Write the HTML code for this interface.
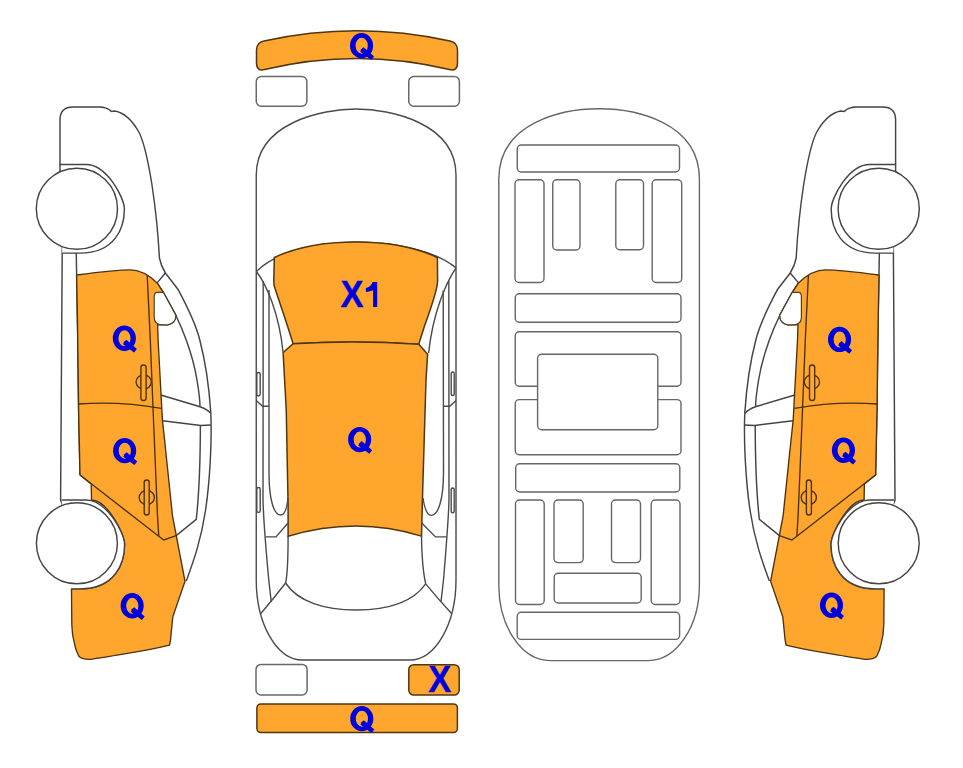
<!DOCTYPE html>
<html><head><meta charset="utf-8"><style>
html,body{margin:0;padding:0;background:#fff;}
svg{display:block;}
text{font-family:"Liberation Sans",sans-serif;font-weight:bold;fill:#0000dc;stroke:#0000dc;stroke-width:0.3;}
</style></head><body>
<svg width="963" height="768" viewBox="0 0 963 768">
<defs><g id="Q"><path d="M0,12.65 A11.55,12.65 0 1 0 23.1,12.65 A11.55,12.65 0 1 0 0,12.65 Z M5.6,12.7 A6.1,8 0 1 1 17.8,12.7 A6.1,8 0 1 1 5.6,12.7 Z" fill-rule="evenodd"/><path d="M11.25,16.25 L13.6,14.2 L24.1,23.4 L21.25,26.9 L10.3,18.75 Z"/></g>
<g id="side">
  <!-- body outline -->
  <path d="M60,164.4 V120 Q60,107 73,107 L100,107 Q106,107.5 109,109.5 L111.25,111.4 L115,111 C125,113 133,122 138.3,131 C144,141 148,160 152,185 C155,205 158,230 159.4,258 Q161,266 165.4,273 L177.9,289.2 C188,308 196,325 199.8,340 C205,360 209,385 210.8,413 C212,440 210,480 205.6,510 C201,540 194,560 186.25,581" fill="#fff" stroke="#444" stroke-width="1.45"/>
  <!-- left rocker lines -->
  <path d="M62.25,246 L60.6,500 L62.5,505" fill="none" stroke="#444" stroke-width="1.45"/>
  <path d="M76.25,253.1 L77.6,330 L78.6,410 L80,475" fill="none" stroke="#444" stroke-width="1.45"/>
  <!-- front arch + wheel -->
  <path d="M60,172 V164.4 H86 C107,164.4 124.4,198 124.4,208.9 C124.4,227.9 115,253.1 80,253.1 H62.25" fill="#fff" stroke="#444" stroke-width="1.45"/>
  <circle cx="76.9" cy="208.75" r="40.6" fill="#fff" stroke="#444" stroke-width="1.45"/>
  <!-- A pillar / window lines -->
  <path d="M157.1,282.9 L165.4,273" fill="none" stroke="#444" stroke-width="1.45"/>
  <path d="M157.1,282.9 L163.3,292.3 L175.8,315.2 C180,324 183,331 186.25,340 C191,353 195,368 197,380 C199,392 200,400 200,406.7" fill="none" stroke="#444" stroke-width="1.45"/>
  <path d="M200.4,425 C200.3,460 199,495 196.25,519.4 L176.25,535.6 Q170,539 163.75,540" fill="none" stroke="#444" stroke-width="1.45"/>
  <!-- seat quad -->
  <path d="M160.8,395 L200,406.7 Q207,409 210.8,413.3" fill="none" stroke="#444" stroke-width="1.45"/>
  <path d="M162.5,420.8 L200.8,425.4 L210.8,425" fill="none" stroke="#444" stroke-width="1.45"/>
  <!-- orange panels -->
  <path d="M76.6,275 C100,272 120,269.9 130,269.9 C140,269.9 150,276 157.1,282.9 L163.3,292.3 L175.8,315.2 Q176,323 168,324.8 L157.6,324.6 L158.1,340 C159.5,370 161,395 162.5,420.8 L165,444 L172.5,516 L185,581.25 L172.8,616.8 L170.5,640 L169.5,645.2 Q150,650 124.4,653.9 Q100,658 91,659.3 Q82,659.5 79,656.5 Q75.5,650 74.6,644.1 Q72,635 71.8,624.5 L71.5,588.85 L80,588.85 C115,588.85 124.6,563.4 124.6,544.4 C124.6,533.4 107,500 91.5,500 L91.25,484 L80,475 L78.6,410 L77.6,330 Z" fill="#ffa62e" stroke="#4a3210" stroke-width="1.35"/>
  <!-- door lines -->
  <path d="M147.2,275.1 L150.3,340 L153.75,426 L157.5,516 L158.75,536.25" fill="none" stroke="#4a3210" stroke-width="1.35"/>
  <path d="M78.1,404 Q120,401 161.25,408.3" fill="none" stroke="#4a3210" stroke-width="1.35"/>
  <path d="M80,475 L158.75,536.25 L163.75,540 L176.25,535.6" fill="none" stroke="#4a3210" stroke-width="1.35"/>
  <!-- handles -->
  <ellipse cx="143.7" cy="382" rx="7.6" ry="7.2" fill="none" stroke="#4a3210" stroke-width="1.35"/>
  <rect x="140.9" y="365" width="5.2" height="35.5" rx="2.6" fill="#ffa62e" stroke="#4a3210" stroke-width="1.35"/>
  <ellipse cx="146.8" cy="497.5" rx="7.6" ry="7.2" fill="none" stroke="#4a3210" stroke-width="1.35"/>
  <rect x="144.2" y="480" width="5" height="35" rx="2.5" fill="#ffa62e" stroke="#4a3210" stroke-width="1.35"/>
  <!-- mirror -->
  <path d="M157,292.3 L163.3,292.3 L175.8,315.2 Q176,323 168,324.8 L162,324.8 Q154.2,324.8 154.2,317 L154.2,297 Q154.2,292.3 157,292.3 Z" fill="#fff" stroke="#4a4030" stroke-width="1.2"/>
  <!-- rear arch + wheel -->
  <path d="M61.5,500 H86 C107,500 124.6,533.4 124.6,544.4 C124.6,563.4 115,588.85 80,588.85 H71.5" fill="#fff" stroke="#444" stroke-width="1.45"/>
  <circle cx="76.9" cy="543.3" r="40.5" fill="#fff" stroke="#444" stroke-width="1.45"/>
</g>
</defs>

<!-- ============ LEFT SIDE CAR ============ -->
<use href="#side"/>
<!-- ============ RIGHT SIDE CAR (mirror) ============ -->
<use href="#side" transform="matrix(-1,0,0,1,955.6,0)"/>

<!-- ============ TOP VIEW CAR ============ -->
<g fill="none" stroke="#4a4a4a" stroke-width="1.4">
  <path d="M256.25,175 C256.25,123 322.1,109 356.1,109 C390.1,109 456,123 456,175 L456,580 A46.3,80 0 0 1 409.7,660 L302.5,660 A46.25,80 0 0 1 256.25,580 Z" fill="#fff"/>
  <path d="M256.4,271.5 A110,47.3 0 0 1 456,267.9"/>
</g>
<path d="M274.3,257.5 A110,47.3 0 0 1 437.4,257.5 L437.6,281 C437.2,292 430,310 424.5,326 L418.75,344.3 Q356,340 293.1,343.75 L287.5,326 L275.2,289 Q273.8,285.5 273.8,282 Z" fill="#ffa62e" stroke="#4f3612" stroke-width="1.5"/>
<path d="M293.1,343.75 Q356,340 418.75,344.3 L427.6,354.2 L426,380 L422.7,490 L421.5,536.1 Q356,515.8 288.1,536.25 L288.1,506 L286.25,410 L283.1,352.5 Z" fill="#ffa62e" stroke="#4f3612" stroke-width="1.5"/>
<g fill="none" stroke="#4a4a4a" stroke-width="1.4">
  <!-- A pillars -->
  <path d="M256.4,271.5 C266,284 279,312 283.1,352.5"/>
  <path d="M456,267.9 C446,283 433,312 428.6,353.1"/>
  <!-- mid lines -->
  <path d="M263.2,281 L263,500 C263.5,520 266,550 268.75,580 L271.25,601.9"/>
  <path d="M448.8,280.6 L449,500 C448.5,520 446,550 443.5,580 L441,601.7"/>
  <!-- inner lines / oval -->
  <path d="M269,290 L269,470 C268.75,500 274,515 280.6,515 C285,515 287,508 288,498"/>
  <path d="M443.2,290.5 L443.5,470 C443.75,500 438,515.4 431.25,515.4 C427,515.4 424.5,508 423,498"/>
  <!-- lower sills -->
  <path d="M265.6,536.9 H276 L288,523"/>
  <path d="M446.7,536.9 H435.5 L421.5,522.8"/>
  <path d="M256.25,400.6 L262.5,406.25 H268.75"/>
  <path d="M456,400.6 L449.75,406.25 H443.5"/>
  <!-- rear pillars -->
  <path d="M288.1,536.25 C288.1,560 288,572 285.6,583"/>
  <path d="M421.5,536.1 C421.8,560 423,572 425.7,583.9"/>
  <!-- rear window -->
  <path d="M285.6,583 C298,602 325,610 356,610 C387,610 413,602 425.7,583.9"/>
  <path d="M285.6,583 Q274,598 260.6,613.75"/>
  <path d="M425.7,583.9 Q438,599 451.6,613.5"/>
  <!-- handles -->
  <rect x="256.8" y="372.5" width="3.4" height="23.5" rx="1.7"/>
  <rect x="256.8" y="487.5" width="3.4" height="25" rx="1.7"/>
  <rect x="451.2" y="372" width="3" height="23.5" rx="1.5"/>
  <rect x="451.2" y="488" width="3" height="24.7" rx="1.5"/>
  <!-- mirrors / lamps -->
  <rect x="256.25" y="76.5" width="50.6" height="29.75" rx="5" fill="#fff" stroke="#686868" stroke-width="1.5"/>
  <rect x="408.75" y="76.5" width="50.65" height="29.75" rx="5" fill="#fff" stroke="#686868" stroke-width="1.5"/>
  <rect x="256" y="664.4" width="51.1" height="30.5" rx="5" fill="#fff" stroke="#686868" stroke-width="1.5"/>
</g>
<!-- bumpers / plates -->
<path d="M256.5,50 Q256.5,42.5 264,41 Q357,20.5 450,41 Q457.5,42.5 457.5,50 L457.5,63 Q457.5,71.5 449.5,69.6 Q357,47.5 264.5,69.6 Q256.5,71.5 256.5,63 Z" fill="#ffa62e" stroke="#4f3612" stroke-width="1.5"/>
<rect x="408.8" y="664.65" width="50.4" height="30.45" rx="5" fill="#ffa62e" stroke="#4f3612" stroke-width="1.5"/>
<rect x="256.9" y="703.9" width="200.5" height="28.7" rx="4" fill="#ffa62e" stroke="#4f3612" stroke-width="1.5"/>

<!-- ============ UNDERBODY ============ -->
<g fill="#fff" stroke="#666" stroke-width="1.4">
  <path d="M498.8,179 C498.8,121 565.1,108.75 599.1,108.75 C633.1,108.75 699.4,121 699.4,179 L699.4,585 A51.2,75.6 0 0 1 648.2,660.6 L550,660.6 A51.2,75.6 0 0 1 498.8,585 Z"/>
  <rect x="517.25" y="145" width="162.25" height="27" rx="4"/>
  <rect x="515" y="179.75" width="29" height="102.75" rx="4"/>
  <rect x="552.75" y="179.75" width="27.25" height="70.25" rx="4"/>
  <rect x="615.8" y="179.75" width="27.7" height="70" rx="4"/>
  <rect x="652.2" y="179.75" width="29.5" height="102.75" rx="4"/>
  <rect x="515.25" y="293.75" width="165.75" height="28.45" rx="4"/>
  <rect x="515.25" y="331.8" width="165.75" height="54.5" rx="4"/>
  <rect x="515.25" y="399.6" width="165.75" height="55.1" rx="4"/>
  <rect x="537.6" y="354.2" width="120.2" height="75.5" rx="4"/>
  <rect x="515.7" y="463.8" width="164.1" height="28.2" rx="4"/>
  <rect x="515.5" y="500" width="28.7" height="104.5" rx="4"/>
  <rect x="554" y="500" width="29.2" height="62.6" rx="4"/>
  <rect x="611.5" y="500" width="29" height="62.6" rx="4"/>
  <rect x="651.2" y="500" width="28.8" height="104.5" rx="4"/>
  <rect x="554.2" y="573.2" width="87" height="29.8" rx="4"/>
  <rect x="517.2" y="612.3" width="162.4" height="27.1" rx="4"/>
</g>

<!-- ============ LABELS ============ -->
<g fill="#0000dc">
  <use href="#Q" x="350" y="33"/>
  <use href="#Q" x="348.1" y="426.9"/>
  <use href="#Q" x="350.2" y="706"/>
  <use href="#Q" x="112.8" y="325.6"/>
  <use href="#Q" x="113.1" y="438"/>
  <use href="#Q" x="120.6" y="593.1"/>
  <use href="#Q" x="828" y="326.8"/>
  <use href="#Q" x="831.9" y="437.6"/>
  <use href="#Q" x="819.9" y="592.6"/>
</g>
<text x="340.6" y="306.9" font-size="34.5" transform="translate(0,-15.3) scale(1,1.05)">X</text>
<path d="M372.6,281.9 H377.2 V306.9 H373.1 V290.3 C371.2,291.2 368.5,291.8 365.9,291.9 V288 C369.2,287.3 371.6,285.3 372.6,281.9 Z" fill="#0000dc"/>
<text x="428.3" y="691.6" font-size="34.5" transform="translate(0,-34.6) scale(1,1.05)">X</text>
</svg>
</body></html>
